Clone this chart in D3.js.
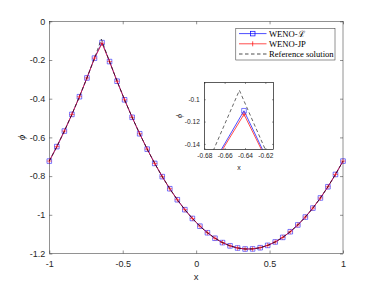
<!DOCTYPE html>
<meta charset="utf-8">
<html>
<head>
<style>
  body { margin: 0; background: #fff; }
  svg { display: block; }
  .tick text { font-family: "Liberation Sans", Arial, sans-serif; fill: #262626; }
  .tick line { stroke: #262626; stroke-width: 0.5; }
  .lbl { font-family: "Liberation Sans", Arial, sans-serif; fill: #262626; }
  .leg { font-family: "Liberation Serif", "DejaVu Serif", serif; fill: #000; }
</style>
</head>
<body>
<div id="chart"></div>
<script src="https://d3js.org/d3.v7.min.js"></script>
<script>

// grid points (40 points, -1..1)
var xGrid = [-1, -0.9487, -0.8974, -0.8462, -0.7949, -0.7436, -0.6923, -0.641, -0.5897, -0.5385,
  -0.4872, -0.4359, -0.3846, -0.3333, -0.2821, -0.2308, -0.1795, -0.1282, -0.0769, -0.0256,
  0.0256, 0.0769, 0.1282, 0.1795, 0.2308, 0.2821, 0.3333, 0.3846, 0.4359, 0.4872,
  0.5385, 0.5897, 0.641, 0.6923, 0.7436, 0.7949, 0.8462, 0.8974, 0.9487, 1];

var wenoL = [-0.7224, -0.6476, -0.5672, -0.4812, -0.3897, -0.2927, -0.1903, -0.1103, -0.2081, -0.3096,
  -0.4057, -0.4962, -0.5812, -0.6607, -0.7345, -0.8027, -0.8653, -0.9222, -0.9735, -1.0190,
  -1.0588, -1.0928, -1.1211, -1.1437, -1.1605, -1.1715, -1.1768, -1.1763, -1.1701, -1.1580,
  -1.1403, -1.1167, -1.0874, -1.0524, -1.0116, -0.9652, -0.9130, -0.8551, -0.7915, -0.7224];

var wenoJP = [-0.7224, -0.6476, -0.5672, -0.4812, -0.3897, -0.2927, -0.1903, -0.1135, -0.2081, -0.3096,
  -0.4057, -0.4962, -0.5812, -0.6607, -0.7345, -0.8027, -0.8653, -0.9222, -0.9735, -1.0190,
  -1.0588, -1.0928, -1.1211, -1.1437, -1.1605, -1.1715, -1.1768, -1.1763, -1.1701, -1.1580,
  -1.1403, -1.1167, -1.0874, -1.0524, -1.0116, -0.9652, -0.9130, -0.8551, -0.7915, -0.7224];

// reference solution (grid points plus the kink)
var refX = [-1, -0.9487, -0.8974, -0.8462, -0.7949, -0.7436, -0.6923, -0.6455, -0.641, -0.5897, -0.5385,
  -0.4872, -0.4359, -0.3846, -0.3333, -0.2821, -0.2308, -0.1795, -0.1282, -0.0769, -0.0256,
  0.0256, 0.0769, 0.1282, 0.1795, 0.2308, 0.2821, 0.3333, 0.3846, 0.4359, 0.4872,
  0.5385, 0.5897, 0.641, 0.6923, 0.7436, 0.7949, 0.8462, 0.8974, 0.9487, 1];
var refY = [-0.7224, -0.6476, -0.5672, -0.4812, -0.3897, -0.2927, -0.1903, -0.0920, -0.1015, -0.2081, -0.3096,
  -0.4057, -0.4962, -0.5812, -0.6607, -0.7345, -0.8027, -0.8653, -0.9222, -0.9735, -1.0190,
  -1.0588, -1.0928, -1.1211, -1.1437, -1.1605, -1.1715, -1.1768, -1.1763, -1.1701, -1.1580,
  -1.1403, -1.1167, -1.0874, -1.0524, -1.0116, -0.9652, -0.9130, -0.8551, -0.7915, -0.7224];

var xTicks = [-1, -0.5, 0, 0.5, 1];
var yTicks = [0, -0.2, -0.4, -0.6, -0.8, -1, -1.2];
var insetXTicks = [-0.68, -0.66, -0.64, -0.62];
var insetYTicks = [-0.14, -0.12, -0.1];
var legendLabels = ["WENO-\u2112", "WENO-JP", "Reference solution"];

var blue = "#0000ff", red = "#ff0000";

var svg = d3.select("#chart").append("svg")
  .attr("width", 379)
  .attr("height", 285);

// draws one set of axes (box + inward ticks), returns the scales
function makeAxes(box, xDom, yDom, xt, yt, fs, tl, xPad, yPad) {
  var x = d3.scaleLinear().domain(xDom).range([box.l, box.r]);
  var y = d3.scaleLinear().domain(yDom).range([box.b, box.t]);
  var fmt = function(d) { return String(d); };

  svg.append("rect")
    .attr("x", box.l).attr("y", box.t)
    .attr("width", box.r - box.l).attr("height", box.b - box.t)
    .attr("fill", "#fff");

  var axes = [
    [d3.axisBottom(x).tickValues(xt).tickFormat(fmt).tickPadding(xPad), "translate(0," + box.b + ")"],
    [d3.axisTop(x).tickValues(xt).tickFormat(""), "translate(0," + box.t + ")"],
    [d3.axisLeft(y).tickValues(yt).tickFormat(fmt).tickPadding(yPad), "translate(" + box.l + ",0)"],
    [d3.axisRight(y).tickValues(yt).tickFormat(""), "translate(" + box.r + ",0)"]
  ];
  axes.forEach(function(a) {
    var g = svg.append("g")
      .attr("transform", a[1])
      .call(a[0].tickSizeInner(-tl).tickSizeOuter(0));
    g.select(".domain").remove();
    g.selectAll("text").attr("font-size", fs + "px");
  });

  svg.append("rect")
    .attr("x", box.l).attr("y", box.t)
    .attr("width", box.r - box.l).attr("height", box.b - box.t)
    .attr("fill", "none").attr("stroke", "#262626").attr("stroke-width", 0.5);

  return {x: x, y: y};
}

function drawSeries(g, x, y, xs, ys, color, marker, ms) {
  var line = d3.line().x(function(d, i) { return x(xs[i]); }).y(function(d) { return y(d); });
  g.append("path").datum(ys)
    .attr("d", line)
    .attr("fill", "none").attr("stroke", color).attr("stroke-width", 0.7);
  if (!marker) return;
  var h = ms / 2;
  var p = marker == "square"
    ? "M" + (-h) + "," + (-h) + "H" + h + "V" + h + "H" + (-h) + "Z"
    : "M" + (-h) + ",0H" + h + "M0," + (-h) + "V" + h;
  g.selectAll(null).data(ys).enter().append("path")
    .attr("d", p)
    .attr("transform", function(d, i) { return "translate(" + x(xs[i]) + "," + y(d) + ")"; })
    .attr("fill", "none").attr("stroke", color).attr("stroke-width", 0.7)
    .attr("stroke-opacity", 0.75);
}

// ---- main axes
var mainBox = {l: 49.3, r: 343, t: 21.3, b: 253.5};
var m = makeAxes(mainBox, [-1, 1], [-1.2, 0], xTicks, yTicks, 9, 3, 7, 4);

var mg = svg.append("g");
drawSeries(mg, m.x, m.y, xGrid, wenoL, blue, "square", 4.6);
drawSeries(mg, m.x, m.y, xGrid, wenoJP, red, "plus", 5);
var refLine = d3.line().x(function(d, i) { return m.x(refX[i]); }).y(function(d) { return m.y(d); });
mg.append("path").datum(refY)
  .attr("d", refLine)
  .attr("fill", "none").attr("stroke", "#000").attr("stroke-width", 0.6)
  .attr("stroke-dasharray", "3.5,2.5");

svg.append("text").attr("class", "lbl")
  .attr("x", (mainBox.l + mainBox.r) / 2).attr("y", 280)
  .attr("text-anchor", "middle").attr("font-size", "9.5px")
  .text("x");
svg.append("text").attr("class", "leg")
  .attr("transform", "translate(25," + (mainBox.t + mainBox.b) / 2 + ") rotate(-90)")
  .attr("text-anchor", "middle").attr("font-size", "10px").attr("font-style", "italic")
  .text("\u03d5");

// ---- legend
var leg = svg.append("g");
leg.append("rect")
  .attr("x", 235.8).attr("y", 28.5).attr("width", 99.2).attr("height", 31.5)
  .attr("fill", "#fff").attr("stroke", "#262626").attr("stroke-width", 0.5);
var legRows = [33.6, 43.8, 54];
var legColors = [blue, red, "#000"];
legendLabels.forEach(function(lab, i) {
  var ly = legRows[i];
  leg.append("line")
    .attr("x1", 239).attr("x2", 266.5).attr("y1", ly).attr("y2", ly)
    .attr("stroke", legColors[i]).attr("stroke-width", 0.7)
    .attr("stroke-dasharray", i == 2 ? "3.5,2.5" : null);
  if (i == 0) {
    leg.append("rect").attr("x", 250.4).attr("y", ly - 2.3).attr("width", 4.6).attr("height", 4.6)
      .attr("fill", "none").attr("stroke", blue).attr("stroke-width", 0.7);
  }
  if (i == 1) {
    leg.append("line").attr("x1", 252.7).attr("x2", 252.7).attr("y1", ly - 2.5).attr("y2", ly + 2.5)
      .attr("stroke", red).attr("stroke-width", 0.7);
  }
  leg.append("text").attr("class", "leg")
    .attr("x", 269).attr("y", ly + 3)
    .attr("font-size", "8.6px")
    .text(lab);
});

// ---- inset
var insetBox = {l: 204.3, r: 273.5, t: 82.5, b: 149.5};
var ins = makeAxes(insetBox, [-0.68, -0.612], [-0.145, -0.085], insetXTicks, insetYTicks, 6.6, 1.5, 4.2, 4.5);

svg.append("clipPath").attr("id", "insetClip")
  .append("rect")
  .attr("x", insetBox.l).attr("y", insetBox.t)
  .attr("width", insetBox.r - insetBox.l).attr("height", insetBox.b - insetBox.t);

var ig = svg.append("g").attr("clip-path", "url(#insetClip)");
drawSeries(ig, ins.x, ins.y, xGrid, wenoL, blue, "square", 4.6);
drawSeries(ig, ins.x, ins.y, xGrid, wenoJP, red, "plus", 5);
var insRef = d3.line().x(function(d, i) { return ins.x(refX[i]); }).y(function(d) { return ins.y(d); });
ig.append("path").datum(refY)
  .attr("d", insRef)
  .attr("fill", "none").attr("stroke", "#000").attr("stroke-width", 0.6)
  .attr("stroke-dasharray", "3.5,2.5");

// redraw the inset frame over the clipped lines
svg.append("rect")
  .attr("x", insetBox.l).attr("y", insetBox.t)
  .attr("width", insetBox.r - insetBox.l).attr("height", insetBox.b - insetBox.t)
  .attr("fill", "none").attr("stroke", "#262626").attr("stroke-width", 0.5);

svg.append("text").attr("class", "lbl")
  .attr("x", (insetBox.l + insetBox.r) / 2).attr("y", 169.5)
  .attr("text-anchor", "middle").attr("font-size", "7px")
  .text("x");
svg.append("text").attr("class", "leg")
  .attr("transform", "translate(182," + (insetBox.t + insetBox.b) / 2 + ") rotate(-90)")
  .attr("text-anchor", "middle").attr("font-size", "7.5px").attr("font-style", "italic")
  .text("\u03d5");

</script>
</body>
</html>
